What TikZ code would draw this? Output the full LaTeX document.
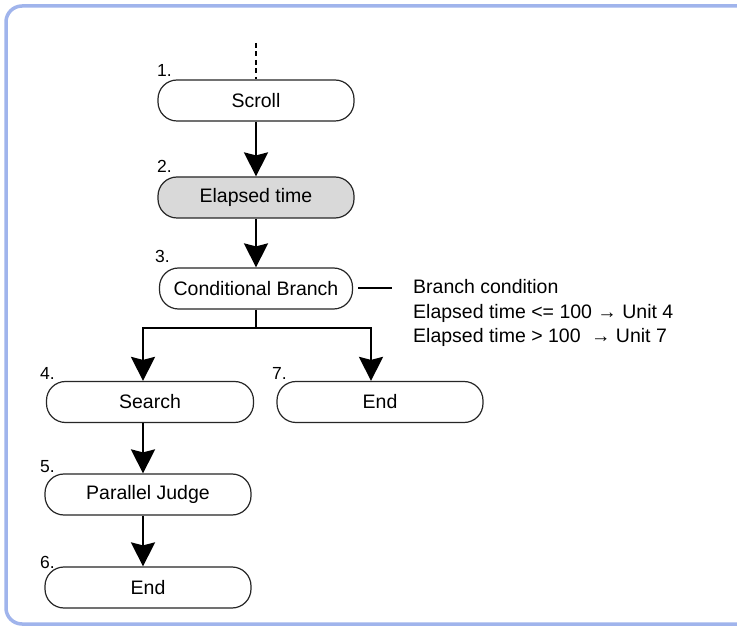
\documentclass[tikz,border=0pt]{standalone}
\usepackage{fontspec}
\setmainfont{Liberation Sans}
\usetikzlibrary{arrows.meta}
\definecolor{frameblue}{RGB}{160,180,236}
\definecolor{unitgray}{RGB}{217,217,217}
\tikzset{
  unit/.style={draw=black!85, line width=1.2pt, rounded corners=19pt,
    minimum height=41pt, inner sep=0pt, font=\fontsize{19.5}{23}\selectfont},
  num/.style={anchor=base west, inner sep=0pt, font=\fontsize{17.5}{20}\selectfont},
  note/.style={anchor=base west, inner sep=0pt, font=\fontsize{19.5}{23}\selectfont},
  flow/.style={line width=2.2pt, -{Triangle[length=24pt, width=24pt, inset=3pt]}},
  branchline/.style={line width=2.2pt},
  tickline/.style={line width=2pt}
}
\begin{document}
\begin{tikzpicture}[x=1pt, y=-1pt]
    \useasboundingbox (0, 0) rectangle (737, 628);
    \fill[white] (0, 0) rectangle (737, 628);
    \draw[frameblue, line width=3.5pt, rounded corners=16pt]
      (745, 6) -- (6, 6) -- (6, 624) -- (745, 624);

    \node[unit, minimum width=196pt] (scroll) at (256, 100.5) {Scroll};
    \node[unit, minimum width=196pt, fill=unitgray] (elapsed) at (256, 197.5) {Elapsed time};
    \node[unit, minimum width=193pt] (cond) at (256, 288.5) {Conditional Branch};
    \node[unit, minimum width=207pt] (search) at (150, 402) {Search};
    \node[unit, minimum width=206pt] (end7) at (380, 402) {End};
    \node[unit, minimum width=206pt] (judge) at (148, 494.5) {Parallel Judge};
    \node[unit, minimum width=206pt] (end6) at (148, 587.5) {End};

    \node[num] (n1) at (157, 77) {1.};
    \node[num] (n2) at (157, 173) {2.};
    \node[num] (n3) at (155, 263) {3.};
    \node[num] (n4) at (40, 380) {4.};
    \node[num] (n5) at (40, 473) {5.};
    \node[num] (n6) at (40, 568) {6.};
    \node[num] (n7) at (272, 380) {7.};

    \node[note] (cond1) at (413, 294) {Branch condition};
    \node[note] (cond2) at (413, 319) {Elapsed time <= 100 → Unit 4};
    \node[note] (cond3) at (413, 343) {Elapsed time > 100\hspace{5pt} → Unit 7};

    \coordinate (entry) at (256, 43);
    \coordinate (fork) at (256, 328);
    \coordinate (coll) at (143, 0);
    \coordinate (colr) at (371, 0);
    \coordinate (tick) at (392, 0);

    \draw[line width=2.4pt, dash pattern=on 5pt off 3.5pt] (entry) -- (scroll.north);
    \draw[flow] (scroll) -- (elapsed);
    \draw[flow] (elapsed) -- (cond);
    \draw[branchline] (cond.south) -- (fork);
    \draw[flow] (fork) -| (search.north -| coll);
    \draw[flow] (fork) -| (end7.north -| colr);
    \draw[flow] (search.south -| coll) -- (judge.north -| coll);
    \draw[flow] (judge.south -| coll) -- (end6.north -| coll);
    \draw[tickline] ([xshift=5pt]cond.east) -- (cond.east -| tick);
  \end{tikzpicture}
\end{document}
